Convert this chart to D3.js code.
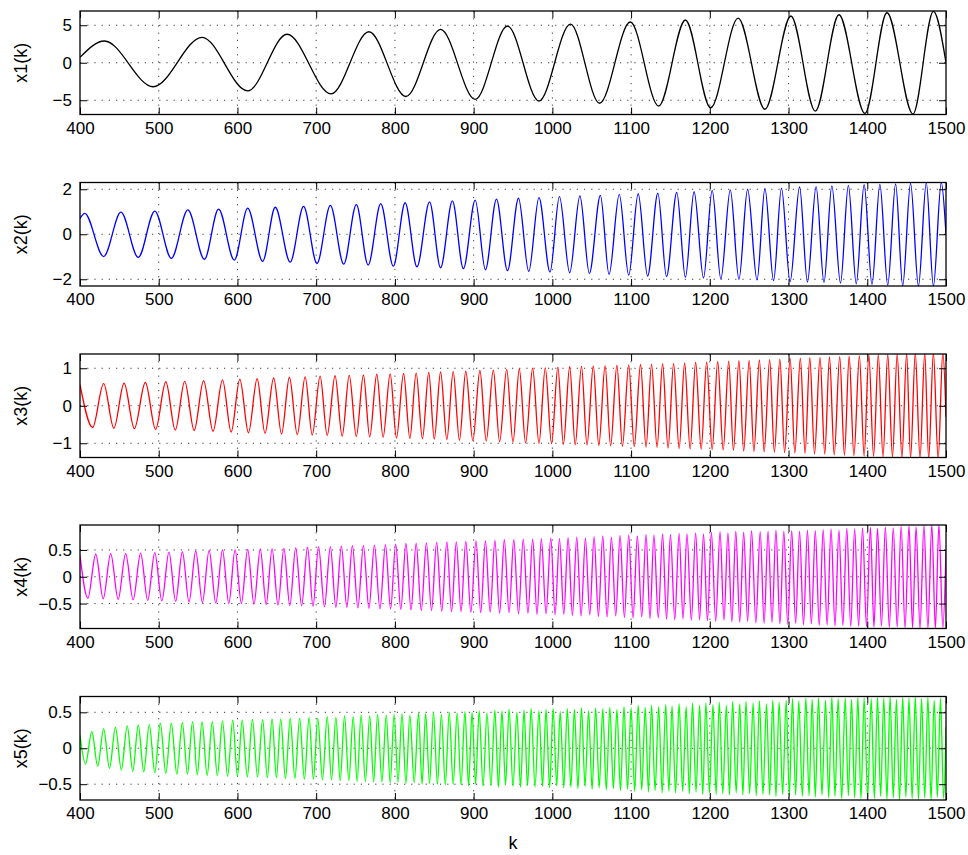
<!DOCTYPE html>
<html>
<head>
<meta charset="utf-8">
<script src="https://cdn.jsdelivr.net/npm/d3@7"></script>
<style>
  body { margin: 0; background: #fff; }
  text { font-family: "Liberation Sans", Arial, Helvetica, sans-serif; }
</style>
</head>
<body>
<svg id="chart" width="968" height="855"></svg>
<script>
// ---- data: turning points (k, value) ----
const kTicks = [400, 500, 600, 700, 800, 900, 1000, 1100, 1200, 1300, 1400, 1500];

const x1K = [400, 431, 493, 555, 613, 663, 719, 767, 814, 858, 902, 943, 983, 1023, 1060, 1099, 1135, 1169, 1201, 1236, 1270, 1303, 1334, 1364, 1397, 1425, 1458, 1484, 1500];
const x1V = [0.72, 2.9, -3.2, 3.39, -3.75, 3.8, -4.15, 4.13, -4.5, 4.45, -4.88, 4.9, -5.1, 5.16, -5.4, 5.43, -5.77, 5.7, -6.0, 5.96, -6.2, 6.23, -6.44, 6.4, -6.75, 6.67, -6.84, 6.85, 0];

const x2EdgeK = [400, 1500];
const x2EdgeV = [0.7, 0];
const x2PeakK = [406, 452, 495, 537, 576, 613, 648, 684, 718, 751, 782, 813, 844, 873, 902, 929, 957, 983, 1009, 1035, 1061, 1085, 1109, 1134, 1158, 1180, 1203, 1226, 1248, 1270, 1291, 1314, 1335, 1355, 1376, 1396, 1416, 1436, 1455, 1475, 1494];
const x2PeakV = [0.93, 0.98, 1.03, 1.08, 1.12, 1.16, 1.2, 1.24, 1.28, 1.32, 1.36, 1.4, 1.44, 1.48, 1.52, 1.56, 1.6, 1.63, 1.67, 1.7, 1.73, 1.77, 1.8, 1.83, 1.86, 1.89, 1.95, 1.97, 2.0, 2.03, 2.05, 2.1, 2.12, 2.15, 2.17, 2.2, 2.22, 2.24, 2.26, 2.28, 2.3];
const x2TroughK = [430, 474, 516, 558, 596, 632, 667, 701, 735, 766, 798, 828, 858, 887, 915, 943, 970, 997, 1022, 1047, 1072, 1097, 1121, 1145, 1169, 1192, 1214, 1237, 1260, 1281, 1302, 1324, 1345, 1366, 1386, 1406, 1426, 1445, 1465, 1484];
const x2TroughV = [-0.99, -1.03, -1.07, -1.11, -1.15, -1.2, -1.24, -1.3, -1.33, -1.37, -1.42, -1.45, -1.49, -1.53, -1.58, -1.62, -1.65, -1.68, -1.71, -1.74, -1.78, -1.82, -1.86, -1.88, -1.91, -1.94, -1.98, -2.0, -2.03, -2.06, -2.1, -2.12, -2.14, -2.17, -2.2, -2.23, -2.26, -2.28, -2.3, -2.3];

const x3EdgeK = [400, 1500];
const x3EdgeV = [0.56, -0.3];
const x3PeakK = [430, 456, 483, 509, 533, 557, 581, 603, 625, 646, 666, 686, 705, 724, 742, 760, 777, 794, 811, 827, 843, 858, 874, 890, 908, 925, 942, 958, 975, 991, 1007, 1022, 1037, 1052, 1067, 1082, 1097, 1112, 1126, 1140, 1154, 1168, 1182, 1196, 1210, 1224, 1237, 1250, 1263, 1276, 1289, 1302, 1315, 1327, 1340, 1352, 1365, 1377, 1390, 1402, 1414, 1426, 1438, 1450, 1461, 1473, 1484, 1496];
const x3PeakV = [0.59, 0.6, 0.62, 0.64, 0.65, 0.67, 0.69, 0.71, 0.72, 0.74, 0.76, 0.77, 0.79, 0.8, 0.81, 0.82, 0.84, 0.85, 0.86, 0.87, 0.89, 0.9, 0.91, 0.92, 0.94, 0.95, 0.97, 0.98, 1.0, 1.01, 1.03, 1.04, 1.05, 1.06, 1.07, 1.08, 1.09, 1.1, 1.11, 1.12, 1.13, 1.14, 1.16, 1.17, 1.18, 1.19, 1.2, 1.21, 1.22, 1.23, 1.24, 1.26, 1.27, 1.28, 1.29, 1.3, 1.31, 1.32, 1.33, 1.35, 1.36, 1.37, 1.38, 1.39, 1.4, 1.41, 1.42, 1.43];
const x3TroughK = [416, 443, 469, 496, 521, 545, 569, 592, 614, 635, 656, 676, 695, 714, 733, 751, 768, 785, 802, 819, 835, 850, 866, 882, 899, 916, 933, 950, 966, 983, 999, 1014, 1029, 1044, 1059, 1074, 1089, 1104, 1119, 1133, 1147, 1161, 1175, 1189, 1203, 1217, 1230, 1243, 1256, 1269, 1282, 1295, 1308, 1321, 1333, 1346, 1358, 1371, 1383, 1396, 1408, 1420, 1432, 1444, 1455, 1467, 1478, 1490];
const x3TroughV = [-0.58, -0.6, -0.61, -0.63, -0.65, -0.66, -0.68, -0.7, -0.72, -0.73, -0.75, -0.77, -0.78, -0.79, -0.81, -0.82, -0.83, -0.84, -0.86, -0.87, -0.88, -0.89, -0.9, -0.92, -0.93, -0.94, -0.96, -0.97, -0.99, -1.0, -1.01, -1.03, -1.04, -1.05, -1.06, -1.07, -1.08, -1.09, -1.1, -1.11, -1.13, -1.14, -1.15, -1.16, -1.17, -1.18, -1.19, -1.21, -1.22, -1.23, -1.24, -1.25, -1.26, -1.27, -1.28, -1.29, -1.31, -1.32, -1.33, -1.34, -1.35, -1.36, -1.37, -1.38, -1.39, -1.4, -1.41, -1.42];

const x4EdgeK = [400, 1500];
const x4EdgeV = [0.4, 0.5];
const x4PeakK = [420, 439, 458, 477, 495, 513, 530, 547, 564, 581, 597, 613, 629, 644, 659, 674, 689, 703, 718, 732, 746, 760, 774, 788, 801, 814, 827, 840, 853, 866, 878, 890, 903, 915, 927, 939, 951, 963, 975, 986, 998, 1009, 1020, 1031, 1042, 1053, 1064, 1075, 1086, 1097, 1108, 1119, 1129, 1140, 1150, 1161, 1171, 1182, 1192, 1202, 1213, 1223, 1233, 1243, 1253, 1264, 1274, 1284, 1294, 1304, 1314, 1324, 1334, 1344, 1354, 1364, 1374, 1384, 1394, 1404, 1413, 1423, 1433, 1443, 1453, 1462, 1472, 1482, 1491];
const x4PeakV = [0.42, 0.43, 0.43, 0.44, 0.45, 0.46, 0.47, 0.48, 0.49, 0.5, 0.5, 0.51, 0.52, 0.52, 0.53, 0.54, 0.55, 0.56, 0.56, 0.57, 0.58, 0.58, 0.59, 0.6, 0.61, 0.62, 0.62, 0.63, 0.64, 0.65, 0.65, 0.66, 0.67, 0.67, 0.68, 0.69, 0.69, 0.7, 0.7, 0.71, 0.72, 0.71, 0.73, 0.74, 0.72, 0.75, 0.76, 0.74, 0.77, 0.78, 0.76, 0.79, 0.78, 0.8, 0.79, 0.81, 0.8, 0.82, 0.8, 0.83, 0.84, 0.82, 0.85, 0.83, 0.86, 0.84, 0.85, 0.87, 0.85, 0.86, 0.85, 0.87, 0.86, 0.88, 0.89, 0.87, 0.9, 0.89, 0.91, 0.92, 0.9, 0.93, 0.91, 0.94, 0.95, 0.93, 0.96, 0.97, 0.97];
const x4TroughK = [410, 429.5, 448.5, 467.5, 486, 504, 521.5, 538.5, 555.5, 572.5, 589, 605, 621, 636.5, 651.5, 666.5, 681.5, 696, 710.5, 725, 739, 753, 767, 781, 794.5, 807.5, 820.5, 833.5, 846.5, 859.5, 872, 884, 896.5, 909, 921, 933, 945, 957, 969, 980.5, 992, 1003.5, 1014.5, 1025.5, 1036.5, 1047.5, 1058.5, 1069.5, 1080.5, 1091.5, 1102.5, 1113.5, 1124, 1134.5, 1145, 1155.5, 1166, 1176.5, 1187, 1197, 1207.5, 1218, 1228, 1238, 1248, 1258.5, 1269, 1279, 1289, 1299, 1309, 1319, 1329, 1339, 1349, 1359, 1369, 1379, 1389, 1399, 1408.5, 1418, 1428, 1438, 1448, 1457.5, 1467, 1477, 1486.5, 1496];
const x4TroughV = [-0.4, -0.41, -0.42, -0.43, -0.44, -0.45, -0.46, -0.47, -0.48, -0.49, -0.5, -0.5, -0.51, -0.52, -0.53, -0.54, -0.54, -0.55, -0.56, -0.57, -0.57, -0.58, -0.59, -0.6, -0.6, -0.61, -0.62, -0.63, -0.63, -0.64, -0.65, -0.65, -0.66, -0.67, -0.66, -0.68, -0.67, -0.69, -0.68, -0.7, -0.69, -0.71, -0.7, -0.72, -0.73, -0.71, -0.74, -0.75, -0.73, -0.76, -0.77, -0.75, -0.78, -0.77, -0.79, -0.8, -0.78, -0.81, -0.8, -0.82, -0.83, -0.81, -0.84, -0.85, -0.83, -0.86, -0.87, -0.85, -0.88, -0.89, -0.87, -0.9, -0.88, -0.91, -0.9, -0.92, -0.91, -0.93, -0.92, -0.93, -0.94, -0.92, -0.95, -0.94, -0.96, -0.95, -0.97, -0.96, -0.97, -0.96];

const x5EdgeK = [400, 1500];
const x5EdgeV = [0.18, 0.3];
const x5PeakK = [415, 430, 445, 460, 474, 488, 502, 516, 530, 543, 555, 568, 581, 594, 606, 619, 632, 644, 655, 667, 679, 691, 702, 714, 725, 736, 747, 757, 768, 778, 789, 799, 809, 819, 830, 839, 849, 859, 869, 879, 889, 898, 907, 917, 927, 936, 945, 955, 964, 973, 983, 992, 1001, 1010, 1019, 1028, 1037, 1046, 1055, 1064, 1073, 1082, 1091, 1100, 1109, 1118, 1126, 1135, 1144, 1152, 1161, 1170, 1178, 1187, 1195, 1204, 1212, 1221, 1229, 1238, 1246, 1255, 1263, 1272, 1280, 1288, 1297, 1305, 1313, 1322, 1330, 1338, 1347, 1355, 1363, 1372, 1380, 1388, 1396, 1405, 1413, 1421, 1429, 1437, 1445, 1453, 1461, 1469, 1477, 1485, 1493];
const x5PeakV = [0.23, 0.27, 0.29, 0.31, 0.32, 0.33, 0.35, 0.35, 0.36, 0.37, 0.37, 0.37, 0.38, 0.39, 0.39, 0.4, 0.4, 0.41, 0.41, 0.42, 0.42, 0.43, 0.42, 0.44, 0.43, 0.45, 0.44, 0.46, 0.45, 0.47, 0.46, 0.47, 0.48, 0.46, 0.49, 0.48, 0.5, 0.47, 0.5, 0.49, 0.51, 0.5, 0.52, 0.49, 0.53, 0.52, 0.54, 0.5, 0.53, 0.55, 0.52, 0.54, 0.55, 0.51, 0.55, 0.54, 0.56, 0.52, 0.56, 0.55, 0.57, 0.54, 0.58, 0.56, 0.6, 0.57, 0.6, 0.58, 0.61, 0.59, 0.62, 0.58, 0.63, 0.6, 0.63, 0.61, 0.64, 0.6, 0.65, 0.62, 0.65, 0.63, 0.66, 0.62, 0.67, 0.64, 0.67, 0.69, 0.66, 0.7, 0.68, 0.7, 0.67, 0.71, 0.69, 0.7, 0.68, 0.71, 0.7, 0.69, 0.71, 0.7, 0.72, 0.68, 0.71, 0.7, 0.72, 0.69, 0.71, 0.67, 0.7];
const x5TroughK = [407, 422.5, 437.5, 452.5, 467, 481, 495, 509, 523, 536.5, 549, 561.5, 574.5, 587.5, 600, 612.5, 625.5, 638, 649.5, 661, 673, 685, 696.5, 708, 719.5, 730.5, 741.5, 752, 762.5, 773, 783.5, 794, 804, 814, 824.5, 834.5, 844, 854, 864, 874, 884, 893.5, 902.5, 912, 922, 931.5, 940.5, 950, 959.5, 968.5, 978, 987.5, 996.5, 1005.5, 1014.5, 1023.5, 1032.5, 1041.5, 1050.5, 1059.5, 1068.5, 1077.5, 1086.5, 1095.5, 1104.5, 1113.5, 1122, 1130.5, 1139.5, 1148, 1156.5, 1165.5, 1174, 1182.5, 1191, 1199.5, 1208, 1216.5, 1225, 1233.5, 1242, 1250.5, 1259, 1267.5, 1276, 1284, 1292.5, 1301, 1309, 1317.5, 1326, 1334, 1342.5, 1351, 1359, 1367.5, 1376, 1384, 1392, 1400.5, 1409, 1417, 1425, 1433, 1441, 1449, 1457, 1465, 1473, 1481, 1489, 1497];
const x5TroughV = [-0.22, -0.25, -0.28, -0.3, -0.32, -0.33, -0.34, -0.35, -0.36, -0.36, -0.37, -0.38, -0.38, -0.39, -0.39, -0.4, -0.4, -0.41, -0.41, -0.42, -0.42, -0.43, -0.43, -0.44, -0.44, -0.45, -0.45, -0.46, -0.46, -0.47, -0.47, -0.48, -0.47, -0.49, -0.48, -0.5, -0.49, -0.5, -0.51, -0.5, -0.51, -0.52, -0.5, -0.53, -0.52, -0.54, -0.51, -0.53, -0.54, -0.52, -0.54, -0.53, -0.55, -0.52, -0.55, -0.54, -0.56, -0.53, -0.57, -0.55, -0.58, -0.56, -0.59, -0.57, -0.6, -0.58, -0.61, -0.59, -0.62, -0.6, -0.62, -0.6, -0.63, -0.61, -0.64, -0.62, -0.64, -0.63, -0.65, -0.62, -0.65, -0.63, -0.66, -0.64, -0.65, -0.67, -0.64, -0.66, -0.65, -0.67, -0.66, -0.68, -0.65, -0.69, -0.67, -0.7, -0.66, -0.69, -0.7, -0.68, -0.7, -0.67, -0.71, -0.69, -0.72, -0.68, -0.7, -0.71, -0.69, -0.72, -0.68, -0.7];

// join the K/V pairs of a series into one sorted list of points
function joinPoints(pairs) {
  const pts = [];
  pairs.forEach(([ks, vs]) => ks.forEach((k, i) => pts.push([k, vs[i]])));
  return pts.sort((a, b) => a[0] - b[0]);
}

const panels = [
  { label: "x1(k)", color: "#000000", yMax: 6.9, yTicks: [-5, 0, 5],
    points: joinPoints([[x1K, x1V]]) },
  { label: "x2(k)", color: "#0000ff", yMax: 2.3, yTicks: [-2, 0, 2],
    points: joinPoints([[x2EdgeK, x2EdgeV], [x2PeakK, x2PeakV], [x2TroughK, x2TroughV]]) },
  { label: "x3(k)", color: "#ff0000", yMax: 1.38, yTicks: [-1, 0, 1],
    points: joinPoints([[x3EdgeK, x3EdgeV], [x3PeakK, x3PeakV], [x3TroughK, x3TroughV]]) },
  { label: "x4(k)", color: "#ff00ff", yMax: 0.965, yTicks: [-0.5, 0, 0.5],
    points: joinPoints([[x4EdgeK, x4EdgeV], [x4PeakK, x4PeakV], [x4TroughK, x4TroughV]]) },
  { label: "x5(k)", color: "#00ff00", yMax: 0.72, yTicks: [-0.5, 0, 0.5],
    points: joinPoints([[x5EdgeK, x5EdgeV], [x5PeakK, x5PeakV], [x5TroughK, x5TroughV]]) }
];

// ---- layout ----
const svg = d3.select("#chart");
const left = 80, right = 946, plotH = 103.5;
const tops = [11, 182.5, 354, 525, 696.5];
const tickLen = 7;
const numFmt = d3.format("~g");

const x = d3.scaleLinear().domain([400, 1500]).range([left, right]);

panels.forEach((p, i) => {
  const top = tops[i], bottom = top + plotH;
  const y = d3.scaleLinear().domain([-p.yMax, p.yMax]).range([bottom, top]);
  const g = svg.append("g").attr("class", "panel");

  // dotted grid
  g.append("g").selectAll("line").data(kTicks.slice(1, -1)).join("line")
    .attr("x1", d => x(d)).attr("x2", d => x(d))
    .attr("y1", top).attr("y2", bottom)
    .attr("stroke", "#222").attr("stroke-width", 0.9)
    .attr("stroke-dasharray", "1.2,6");
  g.append("g").selectAll("line").data(p.yTicks).join("line")
    .attr("x1", left).attr("x2", right)
    .attr("y1", d => y(d)).attr("y2", d => y(d))
    .attr("stroke", "#222").attr("stroke-width", 0.9)
    .attr("stroke-dasharray", "1.2,6");

  // signal
  const clipId = `clip-${i}`;
  svg.append("clipPath").attr("id", clipId)
    .append("rect").attr("x", left).attr("y", top)
    .attr("width", right - left).attr("height", plotH);

  const line = d3.line()
    .x(d => x(d[0]))
    .y(d => y(d[1]))
    .curve(d3.curveMonotoneX);

  g.append("path")
    .datum(p.points)
    .attr("clip-path", `url(#${clipId})`)
    .attr("fill", "none")
    .attr("stroke", p.color)
    .attr("stroke-width", 1.3)
    .attr("d", line);

  // axes, ticks pointing inward on all four sides
  const axB = g.append("g").attr("transform", `translate(0,${bottom})`)
    .call(d3.axisBottom(x).tickValues(kTicks).tickFormat(d3.format("d"))
      .tickSizeInner(-tickLen).tickSizeOuter(0).tickPadding(7));
  const axT = g.append("g").attr("transform", `translate(0,${top})`)
    .call(d3.axisTop(x).tickValues(kTicks).tickFormat("")
      .tickSizeInner(-tickLen).tickSizeOuter(0));
  const axL = g.append("g").attr("transform", `translate(${left},0)`)
    .call(d3.axisLeft(y).tickValues(p.yTicks).tickFormat(numFmt)
      .tickSizeInner(-tickLen).tickSizeOuter(0).tickPadding(8));
  const axR = g.append("g").attr("transform", `translate(${right},0)`)
    .call(d3.axisRight(y).tickValues(p.yTicks).tickFormat("")
      .tickSizeInner(-tickLen).tickSizeOuter(0));

  [axB, axT, axL, axR].forEach(a => {
    a.select(".domain").remove();
    a.selectAll(".tick line").attr("stroke", "#000").attr("stroke-width", 1);
    a.selectAll("text").attr("fill", "#000")
      .style("font-size", "17px")
      .style("font-family", '"Liberation Sans", Arial, sans-serif');
  });

  // frame
  g.append("rect")
    .attr("x", left).attr("y", top)
    .attr("width", right - left).attr("height", plotH)
    .attr("fill", "none").attr("stroke", "#000").attr("stroke-width", 1.3);

  // y label
  g.append("text")
    .attr("transform", `translate(27,${(top + bottom) / 2}) rotate(-90)`)
    .attr("text-anchor", "middle")
    .style("font-size", "18px")
    .text(p.label);
});

svg.append("text")
  .attr("x", (left + right) / 2)
  .attr("y", 849)
  .attr("text-anchor", "middle")
  .style("font-size", "18px")
  .text("k");
</script>
</body>
</html>
